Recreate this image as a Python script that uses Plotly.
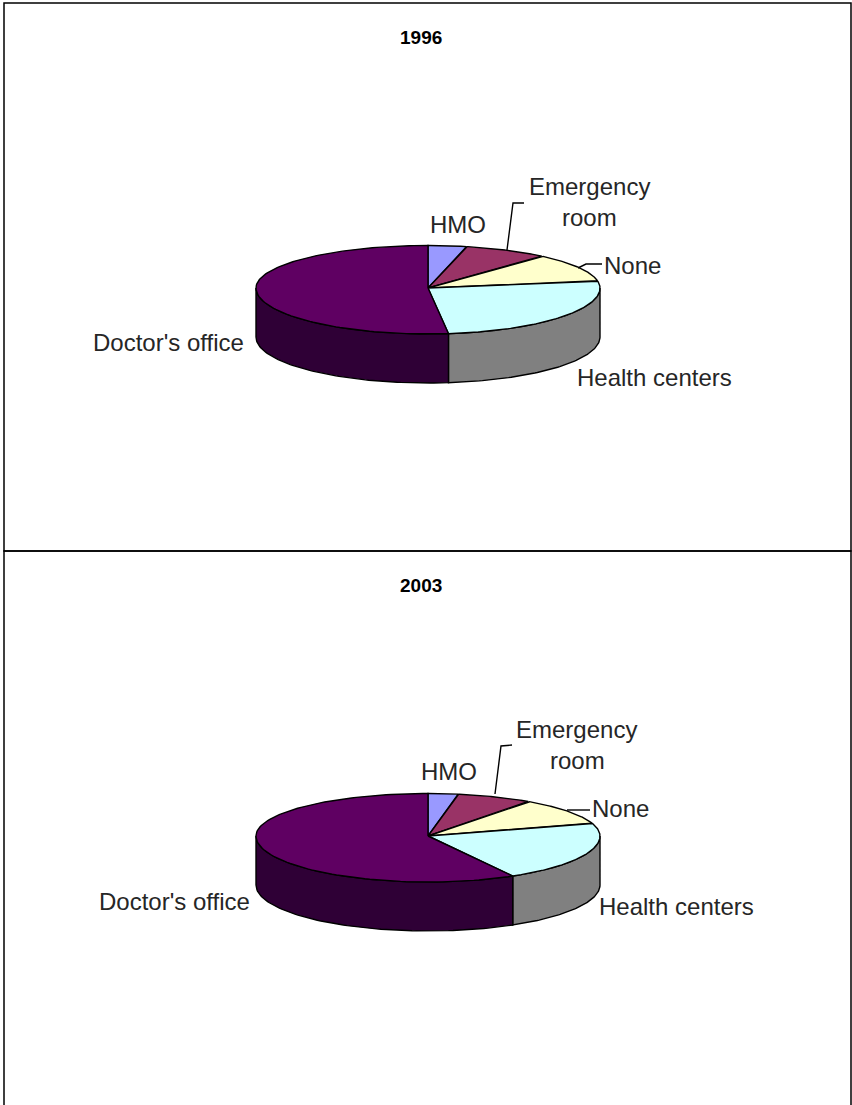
import numpy as np
import plotly.graph_objects as go

CATEGORIES = ["HMO", "Emergency room", "None", "Health centers", "Doctor's office"]
VALUES_1996 = [3.6, 7.9, 10.8, 25.8, 51.9]
VALUES_2003 = [2.8, 7.1, 10.2, 21.7, 58.2]
TOP_COLORS = ["#9999ff", "#993366", "#ffffcc", "#ccffff", "#5f0062"]
SIDE_COLORS = ["#4c4c80", "#4c1933", "#808066", "#808080", "#2f0036"]

W, H = 852, 1105
FONT = "Liberation Sans"
LABEL_SIZE = 24
EDGE = 1.4


def ell(t, cx, cy, rx, ry_back, ry_front, dz=0.0):
    t = np.asarray(t)
    c = np.cos(t)
    return cx + rx * np.sin(t), cy + dz - c * np.where(c > 0, ry_back, ry_front)


def add_pie(fig, values, cx, cy, rx=172, ry_back=42.5, ry_front=46, depth=49):
    total = sum(values)
    edges = np.cumsum([0] + list(values)) / total * 2 * np.pi
    # sides (front half of the disc only)
    for i, v in enumerate(values):
        a, b = max(edges[i], np.pi / 2), min(edges[i + 1], 3 * np.pi / 2)
        if b <= a:
            continue
        t = np.linspace(a, b, 80)
        x1, y1 = ell(t, cx, cy, rx, ry_back, ry_front)
        x2, y2 = ell(t[::-1], cx, cy, rx, ry_back, ry_front, depth)
        fig.add_trace(go.Scatter(
            x=np.r_[x1, x2, x1[0]], y=np.r_[y1, y2, y1[0]], mode="lines", fill="toself",
            fillcolor=SIDE_COLORS[i], line=dict(color="black", width=EDGE),
            hoverinfo="skip", showlegend=False))
    # top faces
    for i, v in enumerate(values):
        t = np.linspace(edges[i], edges[i + 1], 120)
        x, y = ell(t, cx, cy, rx, ry_back, ry_front)
        fig.add_trace(go.Scatter(
            x=np.r_[cx, x, cx], y=np.r_[cy, y, cy], mode="lines", fill="toself",
            fillcolor=TOP_COLORS[i], line=dict(color="black", width=EDGE),
            name=CATEGORIES[i], showlegend=False))


fig = go.Figure()
add_pie(fig, VALUES_1996, 428, 288)
add_pie(fig, VALUES_2003, 428, 836)

# leader lines
for xs, ys in [
    ([507, 513, 524], [250, 203, 203]),
    ([578, 586, 602], [268, 264, 264]),
    ([495, 501, 512], [794, 746, 745]),
    ([567, 590], [810, 810]),
]:
    fig.add_trace(go.Scatter(x=xs, y=ys, mode="lines", line=dict(color="black", width=EDGE),
                             hoverinfo="skip", showlegend=False))

shapes = [
    dict(type="rect", xref="x", yref="y", x0=4, y0=3, x1=851, y1=551,
         line=dict(color="black", width=1.5), fillcolor="rgba(0,0,0,0)"),
    dict(type="rect", xref="x", yref="y", x0=4, y0=551, x1=851, y1=1110,
         line=dict(color="black", width=1.5), fillcolor="rgba(0,0,0,0)"),
]

labels = [
    ("1996", 421, 37, True), ("2003", 421, 585, True),
    ("HMO", 457.5, 224, False), ("Emergency", 589, 186, False), ("room", 589, 217, False),
    ("None", 632.5, 265, False), ("Health centers", 654, 377, False), ("Doctor's office", 168, 342, False),
    ("HMO", 448.5, 771, False), ("Emergency", 576, 729, False), ("room", 577, 760, False),
    ("None", 620.5, 808, False), ("Health centers", 676, 906, False), ("Doctor's office", 174, 901, False),
]
annotations = [
    dict(x=x, y=y, xref="x", yref="y", text=f"<b>{t}</b>" if b else t, showarrow=False,
         xanchor="center", yanchor="middle",
         font=dict(family=FONT, size=19 if b else LABEL_SIZE, color="#000000" if b else "#262626"))
    for t, x, y, b in labels
]

fig.update_layout(
    width=W, height=H, margin=dict(l=0, r=0, t=0, b=0),
    paper_bgcolor="white", plot_bgcolor="white",
    xaxis=dict(range=[0, W], visible=False, fixedrange=True),
    yaxis=dict(range=[H, 0], visible=False, fixedrange=True),
    shapes=shapes, annotations=annotations,
)
fig.write_html("out.html", config={"displayModeBar": False},
               post_script="document.body.style.margin='0';")
